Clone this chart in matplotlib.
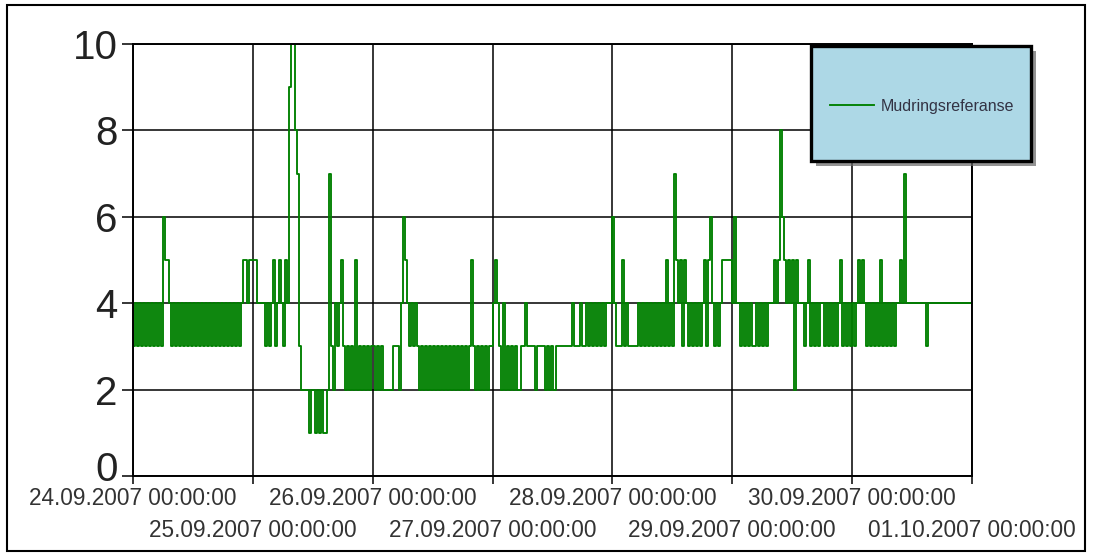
import pandas as pd
import matplotlib
matplotlib.use('Agg')
import matplotlib.pyplot as plt
import matplotlib.dates as mdates
from matplotlib.patches import Rectangle
from matplotlib.transforms import ScaledTranslation

plt.rcParams['font.family'] = ['Liberation Sans', 'DejaVu Sans']

# Readings, one string per day, one character per 24 minutes ('a' = 10)
day_24 = ("343434343434343655"
          "434343434343434343434343434343434343"
          "455455")
day_25 = ("55" "4444" "34345345435" "4" "9" "aa" "8" "7" "3" "2222"
          "1221212112" "7" "324345323232523232323")
day_26 = ("323" "2" "3" "22222" "333" "2" "4" "6" "5" "434343"
          "232323232323232323232323" "2" "3" "5" "323232323" "3")
day_27 = ("4" "5" "4" "3" "2" "4" "2323232" "2" "33" "4" "3333" "2" "3333"
          "23232" "2" "33333333" "4" "333" "4" "33" "43434343434" "4" "4")
day_28 = ("6" "4" "333" "5" "3" "4" "33333" "4" "3" "4" "34343434343" "5"
          "3" "4" "3" "7" "5" "4" "5" "3" "5" "4" "34343434" "5" "3" "5"
          "6" "4" "3" "4" "3" "4" "55555")
day_29 = ("4644" "343434334343434" "44" "545865454525444"
          "345343434434343434534343")
day_30 = ("4345454" "343434353434343" "44" "547" "4444444444" "3"
          "4444444444444444444444")
last_value = 4

day_strings = [day_24, day_25, day_26, day_27, day_28, day_29, day_30]
start_day = '24.09.2007 00:00:00'

major_labels = ['24.09.2007 00:00:00', '26.09.2007 00:00:00',
                '28.09.2007 00:00:00', '30.09.2007 00:00:00']
minor_labels = ['25.09.2007 00:00:00', '27.09.2007 00:00:00',
                '29.09.2007 00:00:00', '01.10.2007 00:00:00']
y_ticks = [0, 2, 4, 6, 8, 10]
series_name = 'Mudringsreferanse'

FMT = '%d.%m.%Y %H:%M:%S'

# Build the time series
t0 = pd.to_datetime(start_day, format=FMT)
times, values = [], []
for d, s in enumerate(day_strings):
    day_start = t0 + pd.Timedelta(days=d)
    for i, c in enumerate(s):
        times.append(day_start + pd.Timedelta(minutes=24 * i))
        values.append(int(c, 16))
t_end = t0 + pd.Timedelta(days=len(day_strings))
times.append(t_end)
values.append(last_value)

W, H = 1093, 557
fig = plt.figure(figsize=(W / 100, H / 100), dpi=100)
ax = fig.add_axes([133 / W, 81 / H, 839 / W, 432 / H])

line, = ax.plot(mdates.date2num(pd.DatetimeIndex(times).to_pydatetime()), values,
                drawstyle='steps-post', color='#008000', lw=1.35,
                label=series_name)

ax.set_xlim(mdates.date2num(t0.to_pydatetime()), mdates.date2num(t_end.to_pydatetime()))
ax.set_ylim(0, 10)

major_pos = [mdates.date2num(pd.to_datetime(l, format=FMT).to_pydatetime()) for l in major_labels]
minor_pos = [mdates.date2num(pd.to_datetime(l, format=FMT).to_pydatetime()) for l in minor_labels]
ax.set_xticks(major_pos)
ax.set_xticklabels(major_labels)
ax.set_xticks(minor_pos, minor=True)
ax.set_xticklabels(minor_labels, minor=True)
ax.set_yticks(y_ticks)
ax.set_yticklabels([str(v) for v in y_ticks])

ax.xaxis.grid(True, which='both', color='black', lw=1.1)
ax.yaxis.grid(True, color='black', lw=1.1)

ax.tick_params(axis='x', which='both', direction='out', length=6, width=1.1,
               labelsize=16.3, labelcolor='#333333')
ax.tick_params(axis='x', which='major', pad=2)
ax.tick_params(axis='x', which='minor', pad=25)
ax.tick_params(axis='y', direction='out', length=8, width=1.1, pad=3,
               labelsize=29, labelcolor='#222222')
for sp in ax.spines.values():
    sp.set_linewidth(1.4)
    sp.set_color('black')

# the "0" sits a little higher, clear of the date labels
zero_lbl = ax.get_yticklabels()[0]
zero_lbl.set_transform(zero_lbl.get_transform() + ScaledTranslation(0, 7 / 72, fig.dpi_scale_trans))

# legend box with drop shadow
bx0, by0, bx1, by1 = 811, 46, 1031, 161
shadow = Rectangle(((bx0 + 5) / W, 1 - (by1 + 5) / H), (bx1 - bx0) / W, (by1 - by0) / H,
                   transform=fig.transFigure, facecolor='#666666', edgecolor='none',
                   alpha=0.7, zorder=3)
box = Rectangle((bx0 / W, 1 - by1 / H), (bx1 - bx0) / W, (by1 - by0) / H,
                transform=fig.transFigure, facecolor='#add8e6', edgecolor='black',
                lw=2.4, zorder=4)
fig.add_artist(shadow)
fig.add_artist(box)
leg = fig.legend(handles=[line], loc='center', frameon=False,
                 bbox_to_anchor=(922 / W, 1 - 106 / H), bbox_transform=fig.transFigure,
                 fontsize=11.5, handlelength=2.8, handletextpad=0.4,
                 labelcolor='#333344')
leg.set_zorder(5)

# outer frame
fig.add_artist(Rectangle((7 / W, 1 - 551 / H), 1078 / W, 546 / H,
                         transform=fig.transFigure, fill=False,
                         edgecolor='black', lw=1.5))

fig.savefig('out.png', dpi=100)
